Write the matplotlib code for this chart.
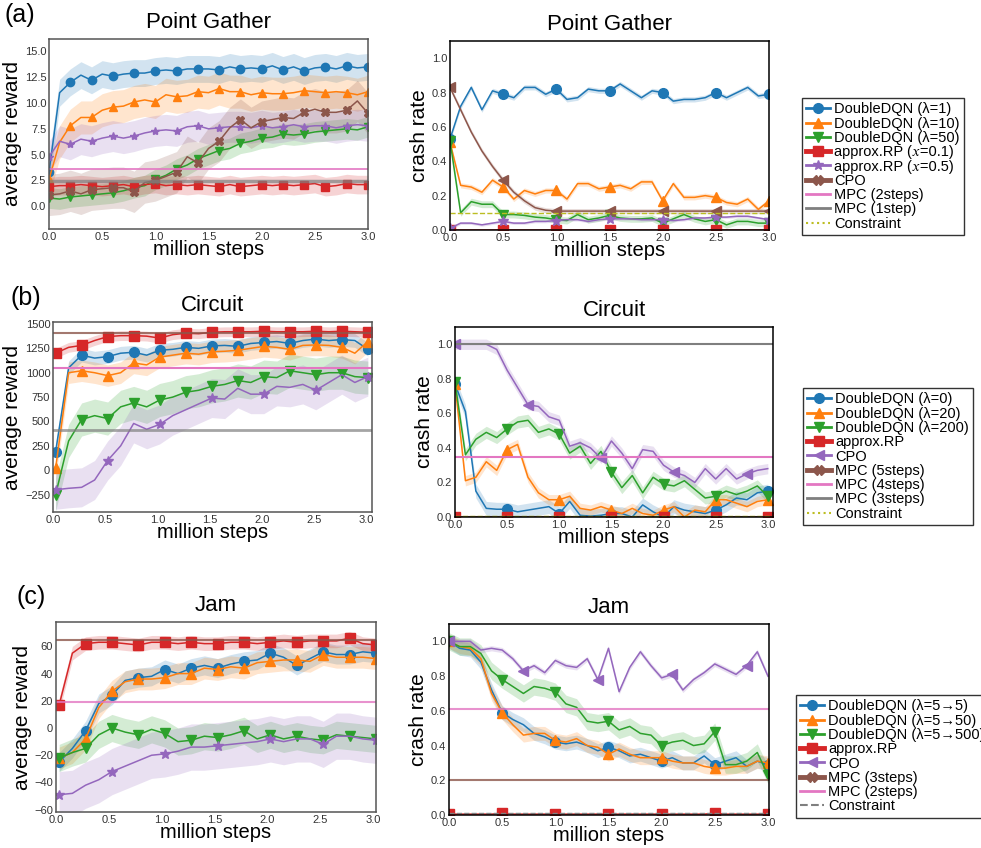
import numpy as np
import matplotlib
matplotlib.use('Agg')
import matplotlib.pyplot as plt
from matplotlib.lines import Line2D

plt.rcParams['font.family'] = ['Liberation Sans', 'STIXGeneral', 'DejaVu Sans']

BLUE, ORANGE, GREEN, RED = '#1f77b4', '#ff7f0e', '#2ca02c', '#d62728'
PURPLE, BROWN, PINK, GRAY, OLIVE = '#9467bd', '#8c564b', '#e377c2', '#7f7f7f', '#bcbd22'

# ---------------- (a) Point Gather ----------------
pg_steps = np.round(np.arange(31) * 0.1, 2)
pg_rew_dqn1 = [3.3, 11.0, 12.0, 12.7, 12.2, 12.8, 12.6, 12.8, 12.9, 12.9, 13.1, 13.2, 13.1, 13.3, 13.3, 13.3,
               13.2, 13.5, 13.3, 13.4, 13.3, 13.6, 13.2, 13.5, 13.1, 13.4, 13.5, 13.3, 13.6, 13.4, 13.5]
pg_rew_dqn10 = [2.6, 6.2, 7.8, 8.6, 8.6, 9.3, 9.6, 9.7, 10.1, 10.3, 10.1, 10.8, 10.6, 10.7, 11.1, 11.0,
                11.4, 11.1, 11.1, 10.8, 11.0, 10.9, 10.9, 11.0, 11.2, 11.1, 11.0, 11.1, 11.0, 10.8, 11.1]
pg_rew_dqn50 = [0.8, 0.7, 0.9, 1.0, 1.1, 1.2, 1.3, 1.5, 1.8, 2.0, 2.6, 3.0, 3.6, 4.0, 4.6, 5.0,
                5.4, 5.6, 6.1, 6.3, 6.6, 6.7, 7.0, 6.9, 7.0, 7.2, 7.3, 7.4, 7.5, 7.4, 7.7]
pg_rew_rp01 = [1.9, 2.0, 2.0, 2.1, 2.0, 1.9, 2.0, 2.1, 1.9, 2.1, 2.2, 2.0, 2.1, 2.0, 2.1, 2.0,
               1.9, 2.1, 1.9, 2.0, 2.1, 2.0, 2.1, 2.0, 2.1, 2.2, 1.9, 2.0, 2.2, 2.1, 2.1]
pg_rew_rp05 = [4.8, 6.3, 6.0, 6.5, 6.3, 6.6, 6.8, 6.6, 6.8, 7.1, 7.3, 7.4, 7.3, 7.7, 7.8, 7.5,
               7.6, 7.7, 7.7, 7.6, 7.8, 7.6, 7.7, 7.9, 7.7, 7.8, 7.8, 7.6, 7.8, 7.9, 7.8]
pg_rew_cpo = [1.1, 1.2, 1.5, 1.2, 1.6, 1.7, 1.8, 1.8, 1.4, 2.3, 2.5, 2.9, 3.3, 4.8, 4.2, 5.6,
              6.3, 7.6, 8.4, 7.6, 8.2, 8.4, 8.6, 8.5, 9.1, 9.4, 9.1, 9.1, 9.3, 10.2, 9.0]
pg_rew_spread = [1.3, 1.6, 1.0, 0.9, 1.5, 2.0]
pg_rew_mpc = [3.6, 2.4]          # 2steps, 1step

pg_crash_dqn1 = [0.53, 0.72, 0.83, 0.70, 0.81, 0.79, 0.77, 0.83, 0.83, 0.79, 0.82, 0.76, 0.77, 0.82, 0.81, 0.81,
                 0.85, 0.81, 0.77, 0.81, 0.80, 0.75, 0.76, 0.76, 0.77, 0.80, 0.77, 0.80, 0.83, 0.78, 0.79]
pg_crash_dqn10 = [0.51, 0.26, 0.25, 0.22, 0.29, 0.25, 0.18, 0.23, 0.21, 0.23, 0.23, 0.18, 0.27, 0.27, 0.24, 0.25,
                  0.26, 0.24, 0.28, 0.28, 0.17, 0.27, 0.19, 0.19, 0.20, 0.19, 0.16, 0.15, 0.18, 0.12, 0.17]
pg_crash_dqn50 = [0.52, 0.10, 0.165, 0.15, 0.15, 0.09, 0.09, 0.085, 0.075, 0.07, 0.06, 0.055, 0.09, 0.06, 0.07, 0.085,
                  0.07, 0.065, 0.065, 0.07, 0.04, 0.065, 0.09, 0.065, 0.05, 0.06, 0.03, 0.05, 0.05, 0.04, 0.04]
pg_crash_rp01 = [0.0, 0.0, 0.0, 0.0, 0.0, 0.0, 0.0, 0.0, 0.0, 0.0, 0.0, 0.0, 0.0, 0.0, 0.0, 0.0,
                 0.0, 0.0, 0.0, 0.0, 0.0, 0.0, 0.0, 0.0, 0.0, 0.0, 0.0, 0.0, 0.0, 0.0, 0.0]
pg_crash_rp05 = [0.01, 0.04, 0.04, 0.03, 0.04, 0.05, 0.04, 0.04, 0.05, 0.05, 0.055, 0.06, 0.06, 0.05, 0.06, 0.065,
                 0.065, 0.065, 0.06, 0.06, 0.06, 0.055, 0.06, 0.07, 0.07, 0.075, 0.075, 0.08, 0.08, 0.07, 0.06]
pg_crash_cpo = [0.83, 0.70, 0.57, 0.46, 0.37, 0.29, 0.22, 0.17, 0.13, 0.115, 0.11, 0.11, 0.11, 0.11, 0.11, 0.11,
                0.11, 0.11, 0.11, 0.11, 0.11, 0.11, 0.11, 0.11, 0.11, 0.11, 0.11, 0.11, 0.11, 0.11, 0.11]
pg_crash_spread = [0.015, 0.015, 0.02, 0.0, 0.008, 0.015]
pg_constraint = 0.1

# ---------------- (b) Circuit ----------------
cir_steps = np.round(0.02 + np.arange(25) * 0.125, 3)
cir_rew_dqn0 = [190, 1050, 1180, 1150, 1165, 1200, 1210, 1180, 1230, 1240, 1260, 1250, 1275,
                1280, 1270, 1300, 1310, 1320, 1300, 1330, 1345, 1330, 1340, 1330, 1240]
cir_rew_dqn20 = [20, 1000, 1020, 1000, 970, 1000, 1100, 1080, 1160, 1180, 1200, 1190, 1215,
                 1220, 1230, 1250, 1270, 1260, 1240, 1280, 1285, 1280, 1260, 1200, 1320]
cir_rew_dqn200 = [-250, 300, 520, 560, 530, 650, 690, 650, 720, 750, 800, 820, 860,
                  880, 920, 900, 960, 950, 1020, 1000, 980, 1000, 1000, 960, 950]
cir_rew_rp = [1200, 1260, 1280, 1330, 1370, 1380, 1380, 1375, 1355, 1390, 1405, 1400, 1415,
              1420, 1420, 1420, 1425, 1420, 1420, 1420, 1425, 1420, 1425, 1420, 1415]
cir_rew_cpo = [-200, -185, -175, -100, 100, 250, 480, 420, 470, 560, 620, 680, 740,
               730, 840, 780, 780, 860, 850, 880, 820, 900, 980, 900, 960]
cir_rew_spread = [70, 110, 170, 50, 200]
cir_rew_mpc = [1405, 1050, 410]   # 5, 4, 3 steps

cir_steps_crash = np.round(np.arange(31) * 0.1, 2)
cir_crash_dqn0 = [0.77, 0.61, 0.15, 0.05, 0.045, 0.045, 0.03, 0.04, 0.05, 0.06, 0.02, 0.09, 0.01, 0.005, 0.01, 0.02,
                  0.02, 0.0, 0.07, 0.03, 0.0, 0.06, 0.04, 0.03, 0.02, 0.04, 0.07, 0.11, 0.10, 0.14, 0.15]
cir_crash_dqn20 = [0.77, 0.21, 0.23, 0.32, 0.27, 0.39, 0.42, 0.23, 0.14, 0.10, 0.10, 0.12, 0.05, 0.04, 0.06, 0.04,
                   0.02, 0.05, 0.02, 0.01, 0.04, 0.06, 0.0, 0.04, 0.03, 0.10, 0.10, 0.08, 0.06, 0.09, 0.10]
cir_crash_dqn200 = [0.78, 0.36, 0.45, 0.49, 0.46, 0.51, 0.55, 0.56, 0.49, 0.51, 0.48, 0.37, 0.41, 0.31, 0.38, 0.26,
                    0.17, 0.24, 0.14, 0.23, 0.19, 0.18, 0.21, 0.16, 0.11, 0.12, 0.15, 0.13, 0.15, 0.18, 0.12]
cir_crash_rp = [0.0, 0.0, 0.0, 0.0, 0.0, 0.0, 0.0, 0.0, 0.0, 0.0, 0.0, 0.0, 0.0, 0.0, 0.0, 0.0,
                0.0, 0.0, 0.0, 0.0, 0.0, 0.0, 0.0, 0.0, 0.0, 0.0, 0.0, 0.0, 0.0, 0.0, 0.0]
cir_crash_cpo = [1.0, 1.0, 1.0, 1.0, 0.97, 0.85, 0.75, 0.65, 0.64, 0.58, 0.56, 0.41, 0.43, 0.40, 0.34, 0.44,
                 0.37, 0.28, 0.39, 0.38, 0.30, 0.26, 0.24, 0.20, 0.28, 0.22, 0.28, 0.22, 0.25, 0.27, 0.28]
cir_crash_spread = [0.04, 0.03, 0.035, 0.0, 0.03]
cir_crash_mpc = [0.0, 0.35, 1.0]
cir_constraint = 0.003

# ---------------- (c) Jam ----------------
jam_steps = np.round(0.03 + np.arange(25) * 0.125, 3)
jam_rew_dqn5 = [-25, -15, -2, 18, 24, 35, 37, 38, 43, 40, 44, 46, 44, 47, 49, 50, 55, 52, 46, 51, 56, 54, 54, 56, 55]
jam_rew_dqn50 = [-22, -18, -8, 15, 27, 34, 36, 36, 37, 40, 40, 44, 43, 45, 44, 48, 49, 50, 50, 49, 54, 52, 52, 52, 51]
jam_rew_dqn500 = [-22, -18, -15, -5, 0, -3, -5, -1, -4, -10, -9, -6, -7, -5, -2, -8, -5, -8, -6, -8, -9, -5, -6, -7, -8]
jam_rew_rp = [17, 55, 62, 63, 63, 62, 61, 63, 63, 62, 63, 62, 62, 63, 63, 62, 63, 64, 63, 64, 64, 64, 66, 62, 61]
jam_rew_cpo = [-49, -48, -42, -38, -32, -28, -24, -20, -19, -17, -14, -14, -13, -12, -11, -10, -8, -10, -8, -8,
               -12, -6, -6, -8, -9]
jam_rew_spread = [7, 8, 10, 5, 17]
jam_rew_mpc = [65, 19]            # 3, 2 steps

jam_steps_crash = np.round(np.arange(31) * 0.1, 2)
jam_crash_dqn5 = [1.0, 0.96, 0.95, 0.88, 0.72, 0.59, 0.55, 0.52, 0.47, 0.45, 0.42, 0.41, 0.42, 0.40, 0.37, 0.39,
                  0.37, 0.34, 0.35, 0.33, 0.31, 0.33, 0.30, 0.30, 0.34, 0.29, 0.31, 0.33, 0.28, 0.31, 0.29]
jam_crash_dqn50 = [1.0, 0.97, 0.96, 0.90, 0.70, 0.59, 0.52, 0.46, 0.47, 0.47, 0.43, 0.42, 0.44, 0.40, 0.39, 0.35,
                   0.38, 0.35, 0.33, 0.33, 0.33, 0.31, 0.30, 0.30, 0.28, 0.27, 0.27, 0.28, 0.28, 0.31, 0.30]
jam_crash_dqn500 = [1.0, 0.97, 0.97, 0.93, 0.83, 0.78, 0.74, 0.70, 0.74, 0.73, 0.71, 0.64, 0.62, 0.54, 0.53, 0.54,
                    0.49, 0.51, 0.47, 0.46, 0.40, 0.42, 0.43, 0.40, 0.41, 0.48, 0.29, 0.29, 0.31, 0.36, 0.23]
jam_crash_rp = [0.005, 0.005, 0.005, 0.005, 0.005, 0.01, 0.005, 0.005, 0.005, 0.005, 0.005, 0.005, 0.005, 0.005,
                0.005, 0.005, 0.005, 0.005, 0.005, 0.005, 0.005, 0.005, 0.005, 0.005, 0.005, 0.01, 0.005, 0.005,
                0.005, 0.005, 0.005]
jam_crash_cpo = [1.0, 1.0, 1.0, 0.95, 0.96, 0.95, 0.90, 0.83, 0.86, 0.82, 0.89, 0.86, 0.85, 0.90, 0.78, 0.96,
                 0.71, 0.85, 0.94, 0.86, 0.79, 0.81, 0.72, 0.78, 0.82, 0.87, 0.84, 0.81, 0.86, 0.94, 0.80]
jam_crash_spread = [0.04, 0.04, 0.05, 0.0, 0.015]
jam_crash_mpc = [0.2, 0.61]
jam_constraint = 0.01

W, H = 981, 848
fig = plt.figure(figsize=(W / 100, H / 100), dpi=100)


def add_ax(l, t, r, b):
    return fig.add_axes([l / W, 1 - b / H, (r - l) / W, (b - t) / H])


def style_ax(ax, title, ylabel, xlim, ylim, yticks, yfmt, edge):
    ax.set_xlim(*xlim)
    ax.set_ylim(*ylim)
    ax.set_xticks(np.arange(0, 3.01, 0.5))
    ax.set_xticklabels(['%.1f' % v for v in np.arange(0, 3.01, 0.5)])
    ax.set_yticks(yticks)
    ax.set_yticklabels([yfmt(v).replace('-', '\u2212') for v in yticks])
    ax.tick_params(length=0, pad=2, labelsize=8, labelcolor='#333333')
    for s in ax.spines.values():
        s.set_color(edge)
        s.set_linewidth(1.1)
    ax.set_title(title, fontsize=16, pad=8)
    ax.set_xlabel('million steps', fontsize=14.5, labelpad=-1)
    ax.set_ylabel(ylabel, fontsize=15, labelpad=2)


def draw(ax, x, vals, spread, color, marker, every, ms=6, lw=1.1):
    v = np.asarray(vals, dtype=float)
    if spread > 0:
        ax.fill_between(x, v - spread, v + spread, color=color, alpha=0.2, lw=0)
    ax.plot(x, v, color=color, lw=lw, marker=marker, markevery=every, ms=ms)


def legend(handles, x, y):
    objs = []
    for label, color, marker, lw, ls in handles:
        objs.append(Line2D([], [], color=color, marker=marker, lw=lw, ls=ls, ms=7, label=label))
    fig.legend(handles=objs, loc='upper left', bbox_to_anchor=(x / W, 1 - y / H), borderaxespad=0,
               fontsize=10.5, labelspacing=0.02, handlelength=1.6, handletextpad=0.3, borderpad=0.3,
               fancybox=False, edgecolor='#333333', framealpha=1)


# ---- (a) left: reward
ax = add_ax(49, 39, 368, 229)
for vals, sp, c, m in zip([pg_rew_dqn1, pg_rew_dqn10, pg_rew_dqn50, pg_rew_rp01, pg_rew_rp05, pg_rew_cpo],
                          pg_rew_spread, [BLUE, ORANGE, GREEN, RED, PURPLE, BROWN],
                          ['o', '^', 'v', 's', '*', 'X']):
    draw(ax, pg_steps, vals, sp, c, m, 2)
ax.axhline(pg_rew_mpc[0], color=PINK, lw=1.2)
ax.axhline(pg_rew_mpc[1], color=GRAY, lw=2.5, alpha=0.7)
style_ax(ax, 'Point Gather', 'average reward', (0, 3.0), (-2.2, 16.2),
         np.arange(0, 15.1, 2.5), lambda v: '%.1f' % v, '#555555')

# ---- (a) right: crash rate
ax = add_ax(450, 41, 769, 230)
for vals, sp, c, m in zip([pg_crash_dqn1, pg_crash_dqn10, pg_crash_dqn50, pg_crash_rp01, pg_crash_rp05,
                           pg_crash_cpo],
                          pg_crash_spread, [BLUE, ORANGE, GREEN, RED, PURPLE, BROWN],
                          ['o', '^', 'v', 's', '*', '<']):
    draw(ax, pg_steps, vals, sp, c, m, 5, ms=7)
ax.axhline(pg_constraint, color=OLIVE, lw=1, ls='--')
style_ax(ax, 'Point Gather', 'crash rate', (0, 3.0), (0, 1.1),
         np.arange(0, 1.01, 0.2), lambda v: '%.1f' % v, 'black')

legend([('DoubleDQN (λ=1)', BLUE, 'o', 2, '-'), ('DoubleDQN (λ=10)', ORANGE, '^', 2, '-'),
        ('DoubleDQN (λ=50)', GREEN, 'v', 2, '-'), ('approx.RP (\U0001d465=0.1)', RED, 's', 3.5, '-'),
        ('approx.RP (\U0001d465=0.5)', PURPLE, '*', 2, '-'), ('CPO', BROWN, 'X', 3.5, '-'),
        ('MPC (2steps)', PINK, None, 2, '-'), ('MPC (1step)', GRAY, None, 2, '-'),
        ('Constraint', OLIVE, None, 1.5, ':')], 802, 98)

# ---- (b) left: reward
ax = add_ax(53, 322, 372, 512)
for vals, sp, c, m, ev in zip([cir_rew_dqn0, cir_rew_dqn20, cir_rew_dqn200, cir_rew_rp, cir_rew_cpo],
                              cir_rew_spread, [BLUE, ORANGE, GREEN, RED, PURPLE],
                              ['o', '^', 'v', 's', '*'], [2, 2, 2, 2, 4]):
    draw(ax, cir_steps, vals, sp, c, m, ev, ms=7)
ax.axhline(cir_rew_mpc[0], color=BROWN, lw=1.5, alpha=0.8)
ax.axhline(cir_rew_mpc[1], color=PINK, lw=1.5)
ax.axhline(cir_rew_mpc[2], color=GRAY, lw=2, alpha=0.7)
style_ax(ax, 'Circuit', 'average reward', (-0.005, 3.06), (-428, 1520),
         np.arange(-250, 1501, 250), lambda v: '%d' % v, '#555555')

# ---- (b) right: crash rate
ax = add_ax(455, 327, 773, 517)
for vals, sp, c, m, ev in zip([cir_crash_dqn0, cir_crash_dqn20, cir_crash_dqn200, cir_crash_rp, cir_crash_cpo],
                              cir_crash_spread, [BLUE, ORANGE, GREEN, RED, PURPLE],
                              ['o', '^', 'v', 's', '<'], [5, 5, 5, 5, 7]):
    draw(ax, cir_steps_crash, vals, sp, c, m, ev, ms=7)
ax.axhline(cir_crash_mpc[0], color=BROWN, lw=1.5)
ax.axhline(cir_crash_mpc[1], color=PINK, lw=1.5)
ax.axhline(cir_crash_mpc[2], color=GRAY, lw=1.5)
ax.axhline(cir_constraint, color=OLIVE, lw=1, ls='--')
style_ax(ax, 'Circuit', 'crash rate', (0, 3.05), (0, 1.1),
         np.arange(0, 1.01, 0.2), lambda v: '%.1f' % v, 'black')

legend([('DoubleDQN (λ=0)', BLUE, 'o', 2, '-'), ('DoubleDQN (λ=20)', ORANGE, '^', 2, '-'),
        ('DoubleDQN (λ=200)', GREEN, 'v', 2, '-'), ('approx.RP', RED, 's', 3.5, '-'),
        ('CPO', PURPLE, '<', 2, '-'), ('MPC (5steps)', BROWN, 'X', 3.5, '-'),
        ('MPC (4steps)', PINK, None, 2, '-'), ('MPC (3steps)', GRAY, None, 2, '-'),
        ('Constraint', OLIVE, None, 1.5, ':')], 803, 388)

# ---- (c) left: reward
ax = add_ax(56, 622, 376, 812)
for vals, sp, c, m, ev in zip([jam_rew_dqn5, jam_rew_dqn50, jam_rew_dqn500, jam_rew_rp, jam_rew_cpo],
                              jam_rew_spread, [BLUE, ORANGE, GREEN, RED, PURPLE],
                              ['o', '^', 'v', 's', '*'], [2, 2, 2, 2, 4]):
    draw(ax, jam_steps, vals, sp, c, m, ev, ms=7)
ax.axhline(jam_rew_mpc[0], color=BROWN, lw=1.5, alpha=0.8)
ax.axhline(jam_rew_mpc[1], color=PINK, lw=1.5, alpha=0.8)
style_ax(ax, 'Jam', 'average reward', (0, 3.03), (-61.7, 77.9),
         np.arange(-60, 61, 20), lambda v: '%d' % v, '#555555')

# ---- (c) right: crash rate
ax = add_ax(449, 624, 769, 815)
for vals, sp, c, m, ev in zip([jam_crash_dqn5, jam_crash_dqn50, jam_crash_dqn500, jam_crash_rp, jam_crash_cpo],
                              jam_crash_spread, [BLUE, ORANGE, GREEN, RED, PURPLE],
                              ['o', '^', 'v', 's', '<'], [5, 5, 5, 5, 7]):
    draw(ax, jam_steps_crash, vals, sp, c, m, ev, ms=7)
ax.axhline(jam_crash_mpc[0], color=BROWN, lw=1.5, alpha=0.8)
ax.axhline(jam_crash_mpc[1], color=PINK, lw=1.5, alpha=0.8)
ax.axhline(jam_constraint, color=GRAY, lw=1, ls='--')
style_ax(ax, 'Jam', 'crash rate', (0, 3.01), (0, 1.1),
         np.arange(0, 1.01, 0.2), lambda v: '%.1f' % v, 'black')

legend([('DoubleDQN (λ=5\u21925)', BLUE, 'o', 2, '-'), ('DoubleDQN (λ=5\u219250)', ORANGE, '^', 2, '-'),
        ('DoubleDQN (λ=5\u2192500)', GREEN, 'v', 2, '-'), ('approx.RP', RED, 's', 3.5, '-'),
        ('CPO', PURPLE, '<', 2, '-'), ('MPC (3steps)', BROWN, 'X', 3.5, '-'),
        ('MPC (2steps)', PINK, None, 2, '-'), ('Constraint', GRAY, None, 1.5, '--')], 796, 695)

fig.text(4 / W, 1 - 3 / H, '(a)', fontsize=18, va='top', ha='left')
fig.text(10 / W, 1 - 286 / H, '(b)', fontsize=18, va='top', ha='left')
fig.text(17 / W, 1 - 585 / H, '(c)', fontsize=18, va='top', ha='left')

fig.savefig('out.png', dpi=100)
